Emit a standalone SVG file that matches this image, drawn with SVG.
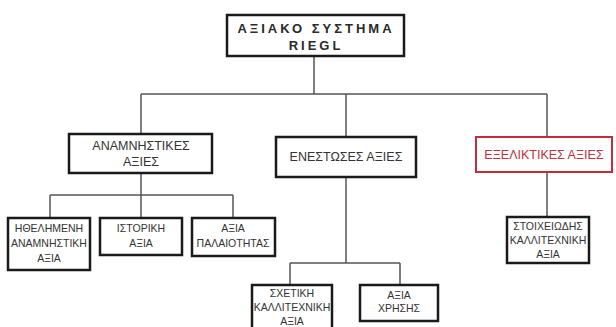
<svg xmlns="http://www.w3.org/2000/svg" width="616" height="327" viewBox="0 0 616 327">
<style>
.box{fill:#fff;stroke:#1a1a1a;stroke-width:2.5}
.red{fill:#fff;stroke:#c0303c;stroke-width:2}
.c{fill:none;stroke:#555;stroke-width:1.5}
text{font-family:"Liberation Sans",Arial,sans-serif;fill:#333;text-anchor:middle}
.t{font-size:12.5px}
.s{font-size:10.5px}
.r{font-weight:bold;font-size:13px;letter-spacing:3px;fill:#2a2a2a}
.rt{fill:#c0303c}
</style>
<rect width="616" height="327" fill="#fff"/>
<g id="connectors">
<path class="c" d="M314 56V94M141 94H547M141 94V134M346 94V137M547 94V137"/>
<path class="c" d="M141 173V195M50 195H233M50 195V218M141 195V218M233 195V218"/>
<path class="c" d="M346 177V263M290 263H400M290 263V285M400 263V285"/>
<path class="c" d="M547 172V217"/>
</g>
<g id="root"><rect class="box" x="227" y="15" width="177" height="41" stroke-width="3"/>
<text class="r" x="316" y="33">ΑΞΙΑΚΟ ΣΥΣΤΗΜΑ</text><text class="r" x="316" y="50">RIEGL</text></g>
<g id="anamnistikes"><rect class="box" x="69" y="134" width="143" height="39"/>
<text class="t" x="141" y="150">ΑΝΑΜΝΗΣΤΙΚΕΣ</text><text class="t" x="141" y="166">ΑΞΙΕΣ</text></g>
<g id="enestoses"><rect class="box" x="276" y="137" width="140" height="40"/>
<text class="t" x="346" y="161">ΕΝΕΣΤΩΣΕΣ ΑΞΙΕΣ</text></g>
<g id="exeliktikes"><rect class="red" x="476" y="137" width="136" height="35"/>
<text class="t rt" x="544" y="159">ΕΞΕΛΙΚΤΙΚΕΣ ΑΞΙΕΣ</text></g>
<g id="ithelimeni"><rect class="box" x="8" y="218" width="82" height="52"/>
<text class="s" x="49" y="232">ΗΘΕΛΗΜΕΝΗ</text><text class="s" x="49" y="247">ΑΝΑΜΝΗΣΤΙΚΗ</text><text class="s" x="49" y="262">ΑΞΙΑ</text></g>
<g id="istoriki"><rect class="box" x="100" y="218" width="82" height="37"/>
<text class="s" x="141" y="232">ΙΣΤΟΡΙΚΗ</text><text class="s" x="141" y="247">ΑΞΙΑ</text></g>
<g id="palaiotitas"><rect class="box" x="192" y="218" width="83" height="38"/>
<text class="s" x="233" y="232">ΑΞΙΑ</text><text class="s" x="233" y="247">ΠΑΛΑΙΟΤΗΤΑΣ</text></g>
<g id="sxetiki"><rect class="box" x="252" y="285" width="80" height="45"/>
<text class="s" x="292" y="297">ΣΧΕΤΙΚΗ</text><text class="s" x="292" y="311">ΚΑΛΛΙΤΕΧΝΙΚΗ</text><text class="s" x="292" y="325">ΑΞΙΑ</text></g>
<g id="xrisis"><rect class="box" x="360" y="285" width="78" height="36"/>
<text class="s" x="399" y="299">ΑΞΙΑ</text><text class="s" x="399" y="312">ΧΡΗΣΗΣ</text></g>
<g id="stoixeiodis"><rect class="box" x="507" y="217" width="82" height="46"/>
<text class="s" x="548" y="230">ΣΤΟΙΧΕΙΩΔΗΣ</text><text class="s" x="548" y="244">ΚΑΛΛΙΤΕΧΝΙΚΗ</text><text class="s" x="548" y="258">ΑΞΙΑ</text></g>
</svg>
